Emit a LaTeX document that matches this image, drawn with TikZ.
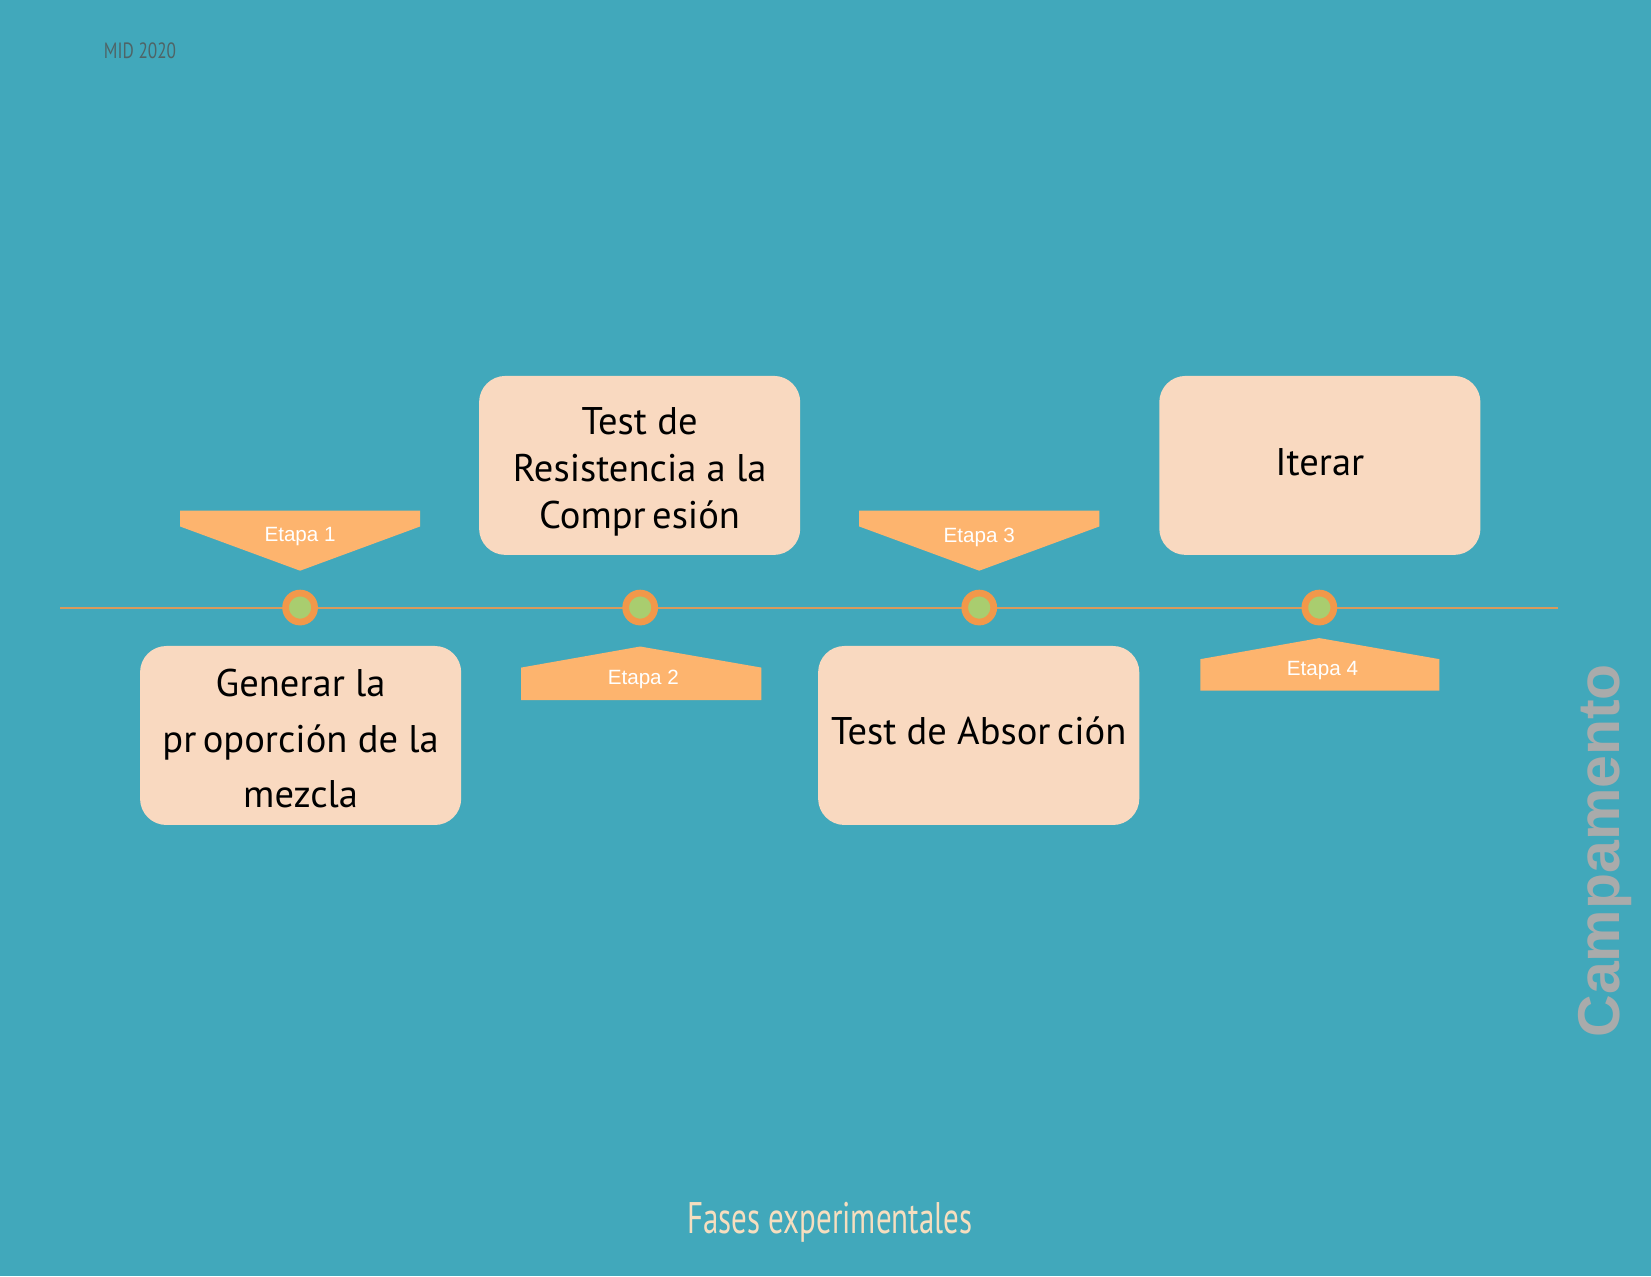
\documentclass[tikz,border=0pt]{standalone}
\usepackage{fontspec}
\setmainfont{PT Sans}
\newfontfamily\etapafont{Liberation Sans}
\newfontfamily\narrowfont[FakeStretch=0.78]{PT Sans}
\newfontfamily\titlefont[FakeStretch=0.7]{PT Sans}
\usetikzlibrary{positioning}
\definecolor{fondo}{HTML}{41A8BB}
\definecolor{caja}{HTML}{F9D9C0}
\definecolor{banda}{HTML}{FDB46E}
\definecolor{linea}{HTML}{D99A5B}
\definecolor{anillo}{HTML}{F2984A}
\definecolor{punto}{HTML}{A9CD6F}
\definecolor{gris}{HTML}{A9ABAB}
\definecolor{crema}{HTML}{F6DEBF}
\definecolor{oscuro}{HTML}{4F6466}

\begin{document}
\begin{tikzpicture}[x=0.5pt,y=-0.5pt]
	\tikzstyle{fase}=[rounded corners=12.5pt, fill=caja, minimum width=152.5pt, minimum height=85pt, inner sep=0pt]
	\tikzstyle{fasetexto}=[text=black, inner sep=0pt, align=center, font=\fontsize{18.3}{22.2}\selectfont]
	\tikzstyle{hito}=[circle, fill=punto, draw=anillo, line width=3.2pt, minimum size=13.75pt, inner sep=0pt]
	\tikzstyle{etapa}=[text=white, font=\etapafont\fontsize{9.8}{11}\selectfont, inner sep=0pt]

	% fondo
	\fill[fondo] (0,0) rectangle (1568,1212);
	\useasboundingbox (0,0) rectangle (1568,1212);

	\node[text=oscuro, font=\narrowfont\fontsize{10.5}{12}\selectfont] (mid) at (133,48) {MID 2020};

	% linea de tiempo
	\coordinate (ini) at (57,577);
	\coordinate (fin) at (1480,577);
	\draw[linea, line width=1pt] (ini) -- (fin);

	\node[hito] (h1) at (285,577) {};
	\node[hito] (h2) at (608,577) {};
	\node[hito] (h3) at (930,577) {};
	\node[hito] (h4) at (1253,577) {};

	% etapas
	\fill[banda] (171,485) -- (399,485) -- (399,500) -- (285,542) -- (171,500) -- cycle;
	\fill[banda] (816,485) -- (1044,485) -- (1044,500) -- (930,542) -- (816,500) -- cycle;
	\fill[banda] (495,665) -- (723,665) -- (723,634) -- (608,614) -- (495,634) -- cycle;
	\fill[banda] (1140,656) -- (1367,656) -- (1367,626) -- (1253,606) -- (1140,626) -- cycle;
	\node[etapa] (e1) at (285,510) {Etapa 1};
	\node[etapa] (e2) at (611,645) {Etapa 2};
	\node[etapa] (e3) at (930,510) {Etapa 3};
	\node[etapa] (e4) at (1256,637) {Etapa 4};

	% fases
	\node[fase] (f1) at (285.5,698.5) {};
	\node[fase] (f2) at (607.5,442) {};
	\node[fase] (f3) at (929.5,698.5) {};
	\node[fase] (f4) at (1253.5,442) {};
	\node[fasetexto, font=\fontsize{18.3}{26.5}\selectfont] (t1) at ([yshift=-1.5pt]f1.center) {Generar la\\pr\,oporción de la\\mezcla};
	\node[fasetexto] (t2) at ([yshift=-3pt]f2.center) {Test de\\Resistencia a la\\Compr\,esión};
	\node[fasetexto] (t3) at ([yshift=2pt]f3.center) {Test de Absor\,ción};
	\node[fasetexto] (t4) at ([yshift=1.5pt]f4.center) {Iterar};

	\node[rotate=90, text=gris, font=\etapafont\bfseries\fontsize{28}{30}\selectfont] (camp) at (1524,808) {Campamento};
	\node[text=crema, font=\titlefont\fontsize{21}{24}\selectfont] (titulo) at (788,1161) {Fases experimentales};
\end{tikzpicture}
\end{document}
